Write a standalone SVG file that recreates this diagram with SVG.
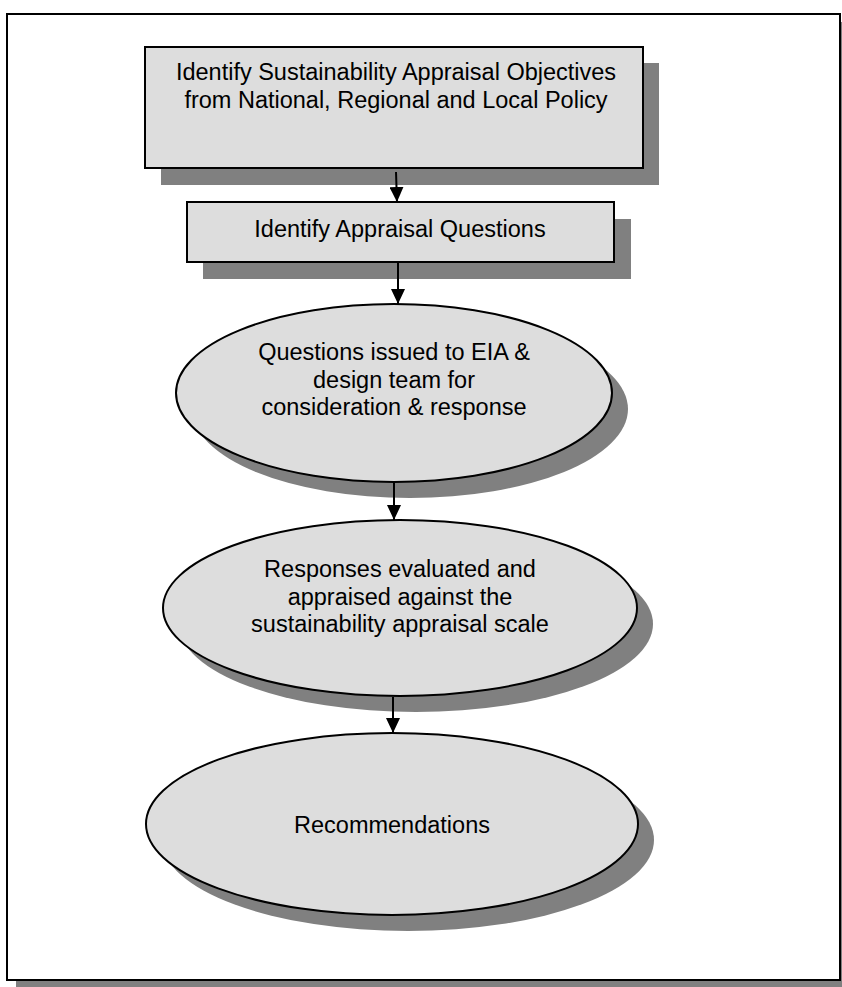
<svg xmlns="http://www.w3.org/2000/svg" width="842" height="987" viewBox="0 0 842 987">
<defs>
<style>
.sh{fill:#808080;stroke:none}
.nd{fill:#dddddd;stroke:#000;stroke-width:2}
.t{font-family:"Liberation Sans",Arial,sans-serif;font-size:23.5px;fill:#000;text-anchor:middle}
.c{stroke:#000;stroke-width:2;fill:none;marker-end:url(#ah)}
</style>
<marker id="ah" markerWidth="15" markerHeight="14" refX="15" refY="7" orient="auto" markerUnits="userSpaceOnUse" viewBox="0 0 15 14">
<path d="M0,0 L15,7 L0,14 Z" fill="#000"/>
</marker>
</defs>
<rect width="842" height="987" fill="#fff"/>
<g id="frame">
<rect x="16" y="22" width="830" height="967" class="sh"/>
<rect x="7" y="14" width="833" height="966" fill="#fff" stroke="#000" stroke-width="2"/>
</g>
<g id="n1">
<rect x="161" y="63" width="498" height="122" class="sh"/>
<rect x="145" y="47" width="498" height="121" class="nd"/>
<text class="t" x="396" y="80">Identify Sustainability Appraisal Objectives</text>
<text class="t" x="396" y="108">from National, Regional and Local Policy</text>
</g>
<g id="n2">
<rect x="203" y="219" width="428" height="60" class="sh"/>
<rect x="187" y="202" width="427" height="60" class="nd"/>
<text class="t" x="400" y="237">Identify Appraisal Questions</text>
</g>
<g id="n3">
<ellipse cx="410" cy="409" rx="218" ry="89" class="sh"/>
<ellipse cx="394" cy="393" rx="218" ry="89" class="nd"/>
<text class="t" x="394" y="360">Questions issued to EIA &amp;</text>
<text class="t" x="394" y="387.5">design team for</text>
<text class="t" x="394" y="415">consideration &amp; response</text>
</g>
<g id="n4">
<ellipse cx="416" cy="624" rx="237" ry="88" class="sh"/>
<ellipse cx="400" cy="608" rx="237" ry="88" class="nd"/>
<text class="t" x="400" y="577">Responses evaluated and</text>
<text class="t" x="400" y="604.5">appraised against the</text>
<text class="t" x="400" y="632">sustainability appraisal scale</text>
</g>
<g id="n5">
<ellipse cx="408" cy="840" rx="246" ry="91" class="sh"/>
<ellipse cx="392" cy="824" rx="246" ry="91" class="nd"/>
<text class="t" x="392" y="833">Recommendations</text>
</g>
<g id="connectors">
<line x1="396" y1="172" x2="397" y2="202" class="c"/>
<line x1="398" y1="262" x2="398" y2="304" class="c"/>
<line x1="394" y1="482" x2="394" y2="520" class="c"/>
<line x1="393" y1="697" x2="393" y2="733" class="c"/>
</g>
</svg>
